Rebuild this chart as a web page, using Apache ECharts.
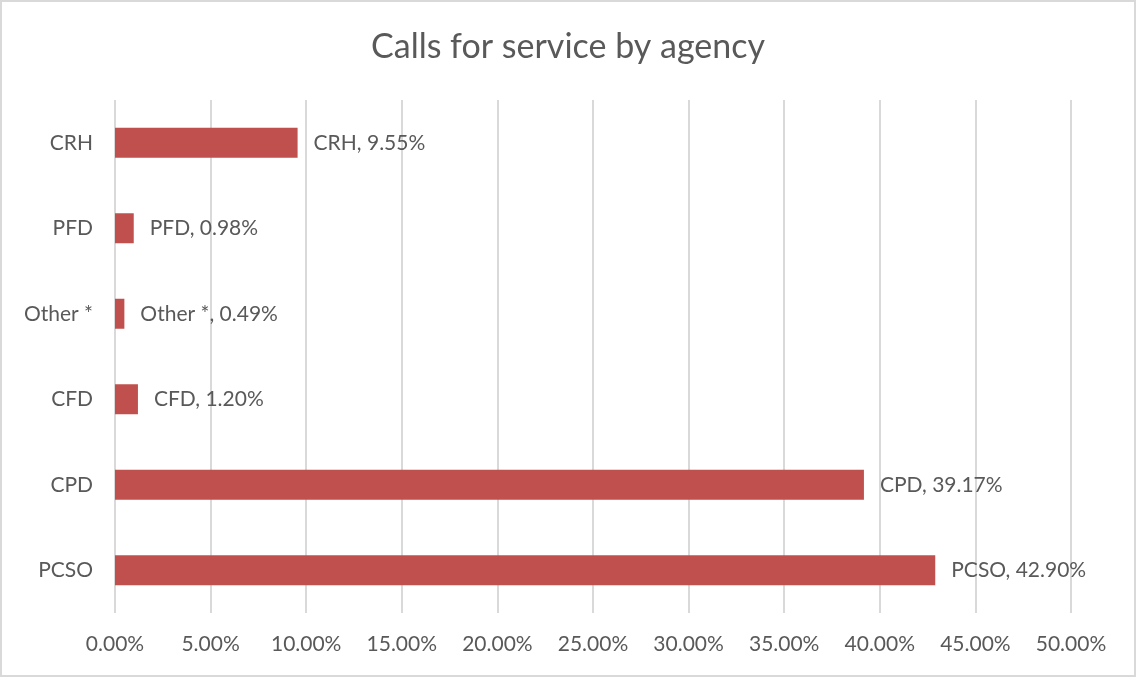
<!DOCTYPE html>
<html>
<head>
<meta charset="utf-8">
<script src="https://cdn.jsdelivr.net/npm/echarts@6/dist/echarts.min.js"></script>
<style>
  html, body { margin: 0; padding: 0; background: #fff; }
  #chart { width: 1136px; height: 677px; box-sizing: border-box; border: 2px solid #d9d9d9; }
</style>
</head>
<body>
<div id="chart"></div>
<script>
// bottom to top, as in the picture
const agencies = ['PCSO', 'CPD', 'CFD', 'Other *', 'PFD', 'CRH'];
const shares = [42.90, 39.17, 1.20, 0.49, 0.98, 9.55];

const chart = echarts.init(document.getElementById('chart'));
const font = 'Lato, "Open Sans", sans-serif';

chart.setOption({
  title: {
    text: 'Calls for service by agency',
    left: 'center',
    top: 23,
    textStyle: { fontFamily: font, fontSize: 34, fontWeight: 'normal', color: '#595959' }
  },
  grid: { left: 113, right: 63, top: 98, bottom: 62 },
  xAxis: {
    type: 'value',
    min: 0,
    max: 50,
    interval: 5,
    axisLine: { show: false },
    axisTick: { show: false },
    splitLine: { lineStyle: { color: '#d9d9d9', width: 2 } },
    axisLabel: {
      formatter: v => v.toFixed(2) + '%',
      fontFamily: font, fontSize: 21, color: '#595959', margin: 21
    }
  },
  yAxis: {
    type: 'category',
    data: agencies,
    axisLine: { show: false },
    axisTick: { show: false },
    axisLabel: { fontFamily: font, fontSize: 21, color: '#595959', margin: 22 }
  },
  series: [{
    type: 'bar',
    data: shares,
    barWidth: 30,
    itemStyle: { color: '#c0504d' },
    label: {
      show: true,
      position: 'right',
      distance: 16,
      formatter: p => p.name + ', ' + p.value.toFixed(2) + '%',
      fontFamily: font, fontSize: 21, color: '#595959'
    }
  }]
});
</script>
</body>
</html>
